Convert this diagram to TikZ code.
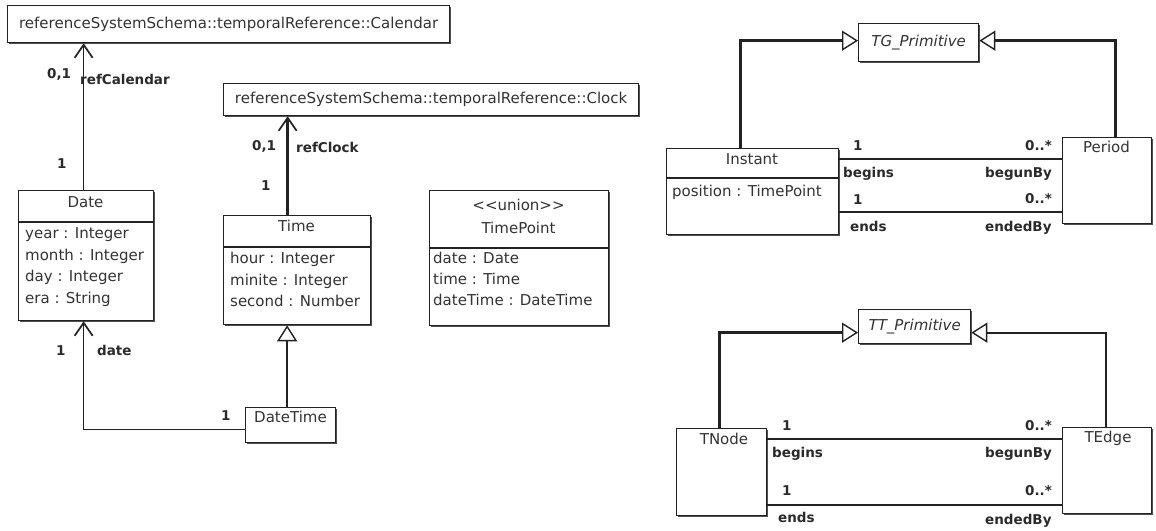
\documentclass[tikz,border=0pt]{standalone}
\usepackage{fontspec}
\setmainfont{DejaVu Sans}
\usetikzlibrary{arrows.meta,calc,shadows}
\definecolor{linec}{HTML}{222222}
\definecolor{txtc}{HTML}{333333}
\definecolor{lblc}{HTML}{2A2A2A}
\newcommand\boxfnt{\fontsize{15}{18}\selectfont}
\newcommand\lblfnt{\fontsize{13.5}{16}\selectfont\bfseries}
\tikzset{
  box/.style={draw=linec, line width=1.3pt, inner sep=0pt, anchor=north west, fill=white, text=txtc, font=\boxfnt,
    drop shadow={shadow xshift=1.2pt, shadow yshift=-1.2pt, opacity=0.8, fill=linec}},
  sepline/.style={draw=linec, line width=1.2pt},
  txt/.style={inner sep=0pt, text=txtc, font=\boxfnt, text height=11pt, text depth=3.5pt},
  lbl/.style={inner sep=0pt, text=lblc, font=\lblfnt, text height=9.5pt, text depth=2.5pt, anchor=west},
  assoc/.style={draw=linec, line width=1.5pt},
  thick assoc/.style={draw=linec, line width=2.6pt},
  nav/.style={-{Straight Barb[length=13pt,width=18pt,line width=1.7pt]}},
  gen/.style={draw=linec, -{Triangle[open,length=16pt,width=20pt,line width=1.4pt,fill=white]}},
}
\begin{document}
\begin{tikzpicture}[x=1pt,y=-1pt]
\useasboundingbox (0,0) rectangle (1156,530);

% ---------- left part ----------
\node[box, minimum width=442pt, minimum height=37pt] (cal) at (7,5) {referenceSystemSchema::temporalReference::Calendar};
\node[box, minimum width=415pt, minimum height=32pt] (clk) at (223,83) {referenceSystemSchema::temporalReference::Clock};

% Date
\node[box, minimum width=135pt, minimum height=130pt] (date) at (18,190) {};
\draw[sepline] ([yshift=-32pt]date.north west) -- ([yshift=-32pt]date.north east);
\node[txt] (dateN) at (85.5,204) {Date};
\node[txt, anchor=west] (dateA1) at (25,235) {year : Integer};
\node[txt, anchor=west] (dateA2) at (25,256.5) {month : Integer};
\node[txt, anchor=west] (dateA3) at (25,278) {day : Integer};
\node[txt, anchor=west] (dateA4) at (25,299.5) {era : String};

% Time
\node[box, minimum width=147pt, minimum height=109pt] (time) at (223,215) {};
\draw[sepline] ([yshift=-32pt]time.north west) -- ([yshift=-32pt]time.north east);
\node[txt] (timeN) at (296.5,228) {Time};
\node[txt, anchor=west] (timeA1) at (230,260) {hour : Integer};
\node[txt, anchor=west] (timeA2) at (230,281.5) {minite : Integer};
\node[txt, anchor=west] (timeA3) at (230,303) {second : Number};

% TimePoint
\node[box, minimum width=179pt, minimum height=135pt] (tp) at (429,190) {};
\draw[sepline] ([yshift=-58pt]tp.north west) -- ([yshift=-58pt]tp.north east);
\node[txt] (tpS) at (518.5,207) {<{}<union>{}>};
\node[txt] (tpN) at (518.5,230) {TimePoint};
\node[txt, anchor=west] (tpA1) at (433,260) {date : Date};
\node[txt, anchor=west] (tpA2) at (433,281) {time : Time};
\node[txt, anchor=west] (tpA3) at (433,302) {dateTime : DateTime};

% DateTime
\node[box, minimum width=90pt, minimum height=35pt] (dt) at (245,407) {};
\node[txt] (dtN) at (290.5,419) {DateTime};

% connectors left
\draw[assoc, nav] ([xshift=-2.5pt]date.north) -- ([xshift=-2.5pt]date.north |- cal.south);
\draw[thick assoc, nav] ([xshift=-9.5pt]time.north) -- ([xshift=-9.5pt]time.north |- clk.south);
\draw[assoc, nav] ([yshift=-4.5pt]dt.west) -| ([xshift=-2.5pt]date.south);
\draw[thick assoc, gen] ([xshift=-3.5pt]dt.north) -- ([xshift=-3.5pt]dt.north |- time.south);

\node[lbl] (l1) at (47,75) {0,1};
\node[lbl] (l2) at (80,81) {refCalendar};
\node[lbl] (l3) at (57,165) {1};
\node[lbl] (l4) at (252,147) {0,1};
\node[lbl] (l5) at (296,149) {refClock};
\node[lbl] (l6) at (261,187) {1};
\node[lbl] (l7) at (56,352) {1};
\node[lbl] (l8) at (97,352) {date};
\node[lbl] (l9) at (221,417) {1};

% ---------- right upper ----------
\node[box, minimum width=120pt, minimum height=38pt, font=\boxfnt\itshape] (tg) at (858,23) {TG\_Primitive};
\node[box, minimum width=172pt, minimum height=86pt] (inst) at (666,148) {};
\draw[sepline] ([yshift=-30pt]inst.north west) -- ([yshift=-30pt]inst.north east);
\node[txt] (instN) at (752,161) {Instant};
\node[txt, anchor=west] (instA) at (672,193) {position : TimePoint};
\node[box, minimum width=89pt, minimum height=86pt] (per) at (1062,137) {};
\node[txt] (perN) at (1106.5,149) {Period};

\draw[thick assoc, gen] ([xshift=-12pt]inst.north) |- ([yshift=2pt]tg.west);
\draw[thick assoc, gen] ([xshift=8.5pt]per.north) |- ([yshift=2pt]tg.east);
\draw[assoc, line width=2pt] ([yshift=-11pt]inst.north east) -- ([yshift=-11pt]inst.north east -| per.west);
\draw[assoc, line width=2pt] ([yshift=-64pt]inst.north east) -- ([yshift=-64pt]inst.north east -| per.west);

\node[lbl] (r1) at (853,147) {1};
\node[lbl] (r2) at (1025,147) {0..*};
\node[lbl] (r3) at (843,174) {begins};
\node[lbl] (r4) at (985,174) {begunBy};
\node[lbl] (r5) at (853,201) {1};
\node[lbl] (r6) at (1025,200) {0..*};
\node[lbl] (r7) at (850,228) {ends};
\node[lbl] (r8) at (985,228) {endedBy};

% ---------- right lower ----------
\node[box, minimum width=112pt, minimum height=34pt, font=\boxfnt\itshape] (tt) at (858,309) {TT\_Primitive};
\node[box, minimum width=90pt, minimum height=87pt] (tn) at (676,428) {};
\node[txt] (tnN) at (724,441) {TNode};
\node[box, minimum width=89pt, minimum height=86pt] (te) at (1062,427) {};
\node[txt] (teN) at (1108,439) {TEdge};

\draw[thick assoc, gen, line width=3pt] ([xshift=-2pt]tn.north) |- ([yshift=-6pt]tt.west);
\draw[assoc, gen, line width=2.2pt] ([xshift=-1.5pt]te.north) |- ([yshift=-6pt]tt.east);
\draw[assoc] ([yshift=-11pt]tn.north east) -- ([yshift=-11pt]tn.north east -| te.west);
\draw[assoc] ([yshift=-77pt]tn.north east) -- ([yshift=-77pt]tn.north east -| te.west);

\node[lbl] (s1) at (782,427) {1};
\node[lbl] (s2) at (1025,427) {0..*};
\node[lbl] (s3) at (772,454) {begins};
\node[lbl] (s4) at (985,454) {begunBy};
\node[lbl] (s5) at (782,492) {1};
\node[lbl] (s6) at (1025,492) {0..*};
\node[lbl] (s7) at (778,519) {ends};
\node[lbl] (s8) at (985,521) {endedBy};
\end{tikzpicture}
\end{document}
